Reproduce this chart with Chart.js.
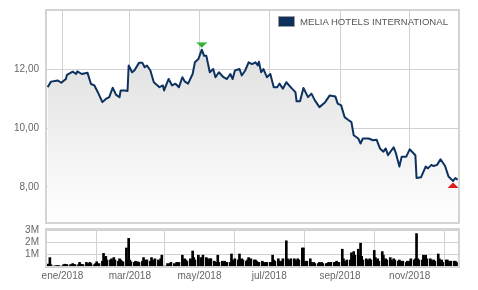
<!DOCTYPE html>
<html><head><meta charset="utf-8">
<script src="https://cdn.jsdelivr.net/npm/chart.js@4.4.1/dist/chart.umd.min.js"></script>
<style>
html,body{margin:0;padding:0;background:#fff;}
#wrap{position:relative;width:478px;height:290px;overflow:hidden;background:#fff;}
#c1{position:absolute;left:0;top:0;}
#c2{position:absolute;left:0;top:224px;}
#legend{position:absolute;left:278px;top:16px;height:11px;font:9.6px "Liberation Sans",Arial,sans-serif;color:#555;white-space:nowrap;}
#legend .sw{position:absolute;left:0;top:0;width:15px;height:9px;border:1px solid #9a9a9a;background:#0c2f5b;}
#legend .tx{position:absolute;left:22px;top:0;line-height:11px;}
</style></head>
<body><div id="wrap">
<canvas id="c1" width="478" height="228"></canvas>
<canvas id="c2" width="478" height="66"></canvas>
<div id="legend"><span class="sw"></span><span class="tx" id="legtext"></span></div>
</div>
<script>
// ---------- DATA ----------
const seriesName = 'MELIA HOTELS INTERNATIONAL';
// days counted from 1 Jan 2018 (a Monday)
const monthTickDays = [0, 59, 120, 181, 243, 304];
const monthTickLabels = ['ene/2018', 'mar/2018', 'may/2018', 'jul/2018', 'sep/2018', 'nov/2018'];
const priceTicks = [8, 10, 12];
const volumeTicks = [1, 2, 3]; // millions

const priceDays = [-13,-10,-4,-1,3,4,9,12,13,17,22,25,28,31,35,38,41,44,47,50,
  51,55,57,58,61,63,67,70,72,74,77,80,85,88,89,93,96,99,102,105,
  107,110,114,116,119,122,124,126,129,132,134,137,141,144,147,149,151,155,157,160,
  163,166,169,171,172,174,176,179,182,185,188,190,193,196,201,204,205,208,211,215,
  218,221,225,230,234,239,241,244,247,250,253,255,259,261,263,268,272,275,278,281,
  283,285,290,292,295,297,301,304,309,310,314,318,320,323,325,328,331,335,338,342,
  344,346];
const prices = [11.40,11.59,11.63,11.55,11.68,11.82,11.93,11.85,11.94,11.85,11.89,11.51,11.46,11.23,10.89,11.00,11.06,11.38,11.14,11.06,
  11.29,11.29,11.27,12.14,11.91,11.97,12.23,12.23,12.08,12.14,11.97,11.57,11.40,11.46,11.29,11.68,11.46,11.52,11.40,11.74,
  11.60,11.52,11.85,12.25,12.36,12.68,12.47,12.47,11.91,12.02,11.74,11.91,11.74,11.68,11.85,11.68,11.97,12.02,11.80,11.97,
  12.25,12.19,12.25,12.14,12.27,11.91,12.02,11.74,11.85,11.40,11.40,11.52,11.35,11.57,11.35,11.23,10.92,10.92,11.37,11.06,
  11.18,10.95,10.72,10.89,11.12,11.08,10.84,10.78,10.38,10.29,10.21,9.76,9.65,9.48,9.65,9.65,9.59,9.61,9.31,9.20,
  9.31,9.08,9.35,9.14,8.69,9.03,9.03,9.28,9.08,8.30,8.33,8.69,8.63,8.75,8.71,8.75,8.94,8.71,8.35,8.20,
  8.30,8.24];

// daily volume (millions), one value per weekday starting Mon 18 Dec 2017 (day -14)
const volumeStartDay = -14;
const volumes = [
  0,0.15,0.1,0.7,0.1,   0,0,0.03,0.03,0.03,   0,0.1,0.15,0.1,0.12,   0.1,0.12,0.2,0.1,0.12,
  0.1,0.3,0.15,0.1,0.12, 0.3,0.15,0.2,0.3,0.2, 0.1,0.2,0.35,0.15,0.2, 0.4,1.05,0.7,0.8,0.5,
  0.5,0.6,0.4,0.7,0.5,   0.4,0.6,0.5,0.4,0.35, 1.5,0.5,2.3,0.5,0.35, 0.3,0.4,0.3,0.35,0.3,
  0.4,0.7,0.4,0.5,0.5,   0.4,0.7,0.5,0.4,0.6,  0.5,0.4,0.6,0.9,0,     0,0.2,0.15,0.2,0.3,
  0.2,0.1,0.3,0.2,0.3,   0.9,0.5,0.6,0.5,0.4,  0.6,0.5,1.25,0.7,0.5,  0.9,0,0.7,0.6,0.9,
  0.7,0.6,0.5,0.6,0.6,   0.4,0.3,0.3,0.9,0.3,  0.4,0.3,0.4,0.3,0.3,   0.3,1.0,0.5,0.4,0.6,
  0.5,1.0,0.5,0.6,0.5,   0.4,0.5,0.7,0.4,0.6,  0.5,0.5,0.4,0.3,0.3,   0.4,0.3,0.2,0.3,0.3,
  0.3,0.3,0.9,0.5,0.4,   0.6,0.4,0.3,0.4,0.6,  2.1,0.6,0.5,0.4,0.6,   0.6,0.5,0.4,0.6,0.5,
  1.5,1.5,0.4,0.3,0.4,   0.6,0.3,0.2,0.3,0.2,  0.2,0.3,0.2,0.3,0.2,   0.2,0.2,0.3,0.2,0.3,
  0.3,0.3,0.4,0.3,0.3,   1.4,0.6,0.4,0.3,0.5,  0.5,1.1,0.8,1.2,0.9,   1.4,0.9,1.9,0.8,0.5,
  0.6,0.5,0.4,0.6,0.5,   1.3,0.7,0.5,0.6,0.4,  1.2,0.9,0.5,0.6,0.5,   0.7,0.5,0.4,0.6,0.5,
  0.4,0.5,0.4,0.3,0.4,   0.3,0.4,0.3,0.4,0.6,  0.5,0.6,2.7,0.6,0.5,   0.5,0.9,0.7,0.9,0.6,
  0.6,0.5,0.4,0.5,0.4,   1.0,0.6,0.4,0.5,0.3,  0.5,0.5,0.4,0.3,0.4,   0.4,0.4,0.3
];

// ---------- BUILD ----------
document.getElementById('legtext').textContent = seriesName;

const xMin = -13.5, xMax = 346.3;
const FONT = {family: '"Liberation Sans", Arial, sans-serif', size: 10};
const TICK_COLOR = '#666';
const GRID = '#d2d2d2';

// weekday trading dates for volume
const volDays = [];
for (let d = volumeStartDay; volDays.length < volumes.length; d++) {
  const dow = ((d % 7) + 7) % 7;
  if (dow < 5) volDays.push(d);
}

const pricePoints = priceDays.map((d, i) => ({x: d, y: prices[i]}));
const volPoints = volDays.map((d, i) => ({x: d, y: volumes[i]}));

const frame = {
  id: 'frame',
  afterDraw(chart) {
    const {ctx, chartArea: a} = chart;
    ctx.save();
    ctx.strokeStyle = '#d4d4d4';
    ctx.lineWidth = 2;
    ctx.strokeRect(a.left - 1, a.top - 1, a.right - a.left + 2, a.bottom - a.top + 2);
    ctx.restore();
  }
};

const markers = {
  id: 'markers',
  afterDatasetsDraw(chart) {
    const {ctx, scales} = chart;
    let iMax = 0, iMin = 0;
    prices.forEach((v, i) => { if (v > prices[iMax]) iMax = i; if (v < prices[iMin]) iMin = i; });
    const xM = scales.x.getPixelForValue(priceDays[iMax]), yM = scales.y.getPixelForValue(prices[iMax]);
    const xm = scales.x.getPixelForValue(priceDays[iMin]), ym = scales.y.getPixelForValue(prices[iMin]);
    ctx.save();
    ctx.fillStyle = '#2fae2f';
    ctx.beginPath();
    ctx.moveTo(xM - 5.5, yM - 7.5); ctx.lineTo(xM + 5.5, yM - 7.5); ctx.lineTo(xM, yM - 2); ctx.closePath();
    ctx.fill();
    ctx.fillStyle = '#7fd87f';
    ctx.fillRect(xM - 4.5, yM - 7.5, 9, 1);
    ctx.fillStyle = '#e01b1b';
    ctx.beginPath();
    ctx.moveTo(xm - 5.5, ym + 7); ctx.lineTo(xm + 5.5, ym + 7); ctx.lineTo(xm, ym + 1.5); ctx.closePath();
    ctx.fill();
    ctx.restore();
  }
};

const monthTicks = (scale) => { scale.ticks = monthTickDays.map(v => ({value: v})); };

// y-grid: invisible 8px tick marks give the label gap without extra layout padding
const yGrid = {color: GRID, drawTicks: true, tickLength: 8, tickColor: 'rgba(0,0,0,0)'};

new Chart(document.getElementById('c1'), {
  type: 'line',
  data: {
    datasets: [{
      label: seriesName,
      data: pricePoints,
      borderColor: '#0d3260',
      borderWidth: 2,
      borderJoinStyle: 'round',
      pointRadius: 0,
      tension: 0,
      fill: 'start',
      backgroundColor: (c) => {
        const {chart} = c; const a = chart.chartArea;
        if (!a) return 'rgba(0,0,0,0)';
        const g = chart.ctx.createLinearGradient(0, a.top, 0, a.bottom);
        g.addColorStop(0, '#d9d9d9');
        g.addColorStop(1, '#ffffff');
        return g;
      }
    }]
  },
  options: {
    responsive: false, devicePixelRatio: 1, animation: false, events: [],
    layout: {padding: {top: 11, right: 20, bottom: 0, left: 0}},
    plugins: {legend: {display: false}, tooltip: {enabled: false}},
    scales: {
      x: {
        type: 'linear', min: xMin, max: xMax,
        afterBuildTicks: monthTicks,
        afterFit: (s) => { s.height = 0; },
        ticks: {display: false},
        grid: {color: GRID, drawTicks: false},
        border: {display: false}
      },
      y: {
        type: 'linear', min: 6.8, max: 14,
        afterBuildTicks: (s) => { s.ticks = priceTicks.map(v => ({value: v})); },
        afterFit: (s) => { s.width = 47; },
        ticks: {font: FONT, color: TICK_COLOR, padding: 0,
          callback: (v) => v.toFixed(2).replace('.', ',')},
        grid: yGrid,
        border: {display: false}
      }
    }
  },
  plugins: [frame, markers]
});

new Chart(document.getElementById('c2'), {
  type: 'bar',
  data: {
    datasets: [{
      label: 'Volumen',
      data: volPoints,
      backgroundColor: '#000',
      borderWidth: 0,
      barThickness: 2
    }]
  },
  options: {
    responsive: false, devicePixelRatio: 1, animation: false, events: [],
    layout: {padding: {top: 0, right: 20, bottom: 0, left: 0}},
    plugins: {legend: {display: false}, tooltip: {enabled: false}},
    scales: {
      x: {
        type: 'linear', min: xMin, max: xMax, offset: false,
        afterBuildTicks: monthTicks,
        afterFit: (s) => { s.height = 24; },
        ticks: {font: FONT, color: TICK_COLOR, padding: 4, maxRotation: 0, autoSkip: false,
          callback: (v) => monthTickLabels[monthTickDays.indexOf(v)] || ''},
        grid: {color: GRID, drawTicks: false},
        border: {display: false}
      },
      y: {
        type: 'linear', min: 0, max: 3,
        afterBuildTicks: (s) => { s.ticks = volumeTicks.map(v => ({value: v})); },
        afterFit: (s) => { s.width = 47; },
        ticks: {font: FONT, color: TICK_COLOR, padding: 0, callback: (v) => v + 'M'},
        grid: yGrid,
        border: {display: false}
      }
    }
  },
  plugins: [frame]
});
</script>
</body></html>
